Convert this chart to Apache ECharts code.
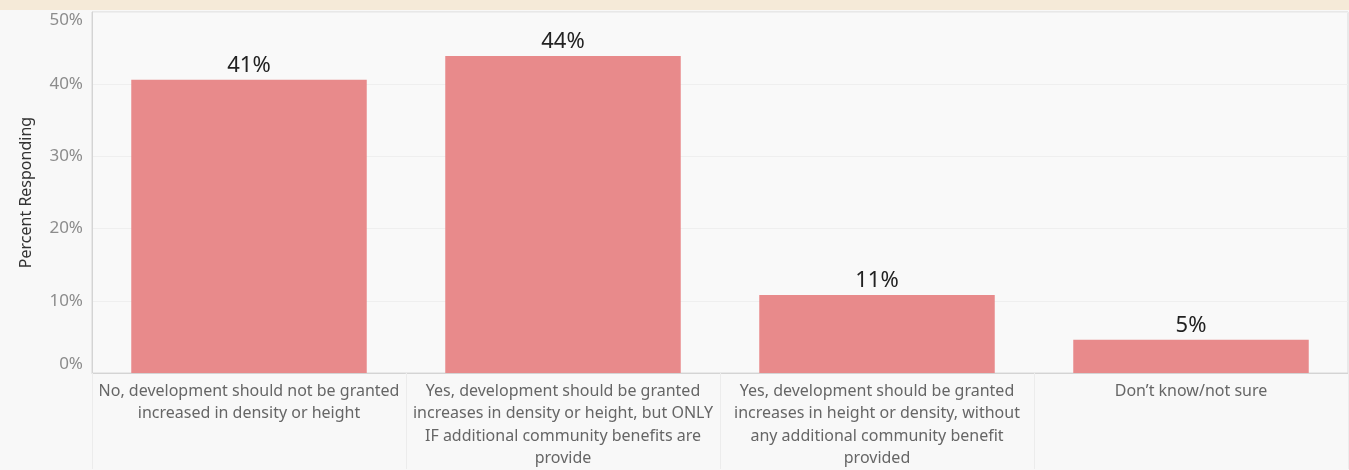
<!DOCTYPE html>
<html>
<head>
<meta charset="utf-8">
<script src="https://cdn.jsdelivr.net/npm/echarts@6/dist/echarts.min.js"></script>
<style>
  html, body { margin: 0; padding: 0; background: #f8f8f8; }
  #band { position: absolute; left: 0; top: 0; width: 1349px; height: 10px; background: #f5ead8; }
  #chart { position: absolute; left: 0; top: 0; width: 1349px; height: 470px; }
</style>
</head>
<body>
<div id="band"></div>
<div id="chart"></div>
<script>
  // survey answers, in the order shown
  var categories = [
    'No, development should not be granted\nincreased in density or height',
    'Yes, development should be granted\nincreases in density or height, but ONLY\nIF additional community benefits are\nprovide',
    'Yes, development should be granted\nincreases in height or density, without\nany additional community benefit\nprovided',
    'Don\u2019t know/not sure'
  ];
  // percent responding
  var percents = [40.6, 43.9, 10.8, 4.6];
  var yTicks = [0, 10, 20, 30, 40, 50];

  var chartObj = echarts.init(document.getElementById('chart'));
  var option = {
    backgroundColor: 'transparent',
    animation: false,
    grid: {
      left: 92, right: 1, top: 12, bottom: 96,
      show: true,
      backgroundColor: '#f9f9f9',
      borderColor: '#d9d9d9',
      borderWidth: 1
    },
    xAxis: {
      type: 'category',
      data: categories,
      axisLine: { lineStyle: { color: '#d4d4d4' } },
      axisTick: { show: true, length: 96, lineStyle: { color: '#ececec' } },
      axisLabel: {
        interval: 0,
        color: '#666',
        fontFamily: 'Noto Sans',
        fontSize: 16,
        lineHeight: 22.5,
        margin: 7
      }
    },
    yAxis: {
      type: 'value',
      min: yTicks[0],
      max: yTicks[yTicks.length - 1],
      interval: 10,
      name: 'Percent Responding',
      nameLocation: 'middle',
      nameRotate: 90,
      nameGap: 58,
      nameTextStyle: { color: '#333', fontFamily: 'Noto Sans', fontSize: 16 },
      axisLine: { show: true, lineStyle: { color: '#d4d4d4' } },
      axisTick: { show: false },
      splitLine: { lineStyle: { color: '#efefef', width: 1 } },
      axisLabel: {
        color: '#8c8c8c',
        fontFamily: 'Noto Sans',
        fontSize: 17,
        margin: 9,
        formatter: '{value}%',
        verticalAlignMinLabel: 'bottom',
        verticalAlignMaxLabel: 'top'
      }
    },
    series: [
      {
        type: 'bar',
        data: percents,
        barCategoryGap: '25%',
        itemStyle: { color: '#e88a8b' },
        label: {
          show: true,
          position: 'top',
          distance: 3,
          color: '#222',
          fontFamily: 'Noto Sans',
          fontSize: 22,
          formatter: function (p) { return Math.round(p.value) + '%'; }
        }
      }
    ]
  };
  chartObj.setOption(option, true);
</script>
</body>
</html>
